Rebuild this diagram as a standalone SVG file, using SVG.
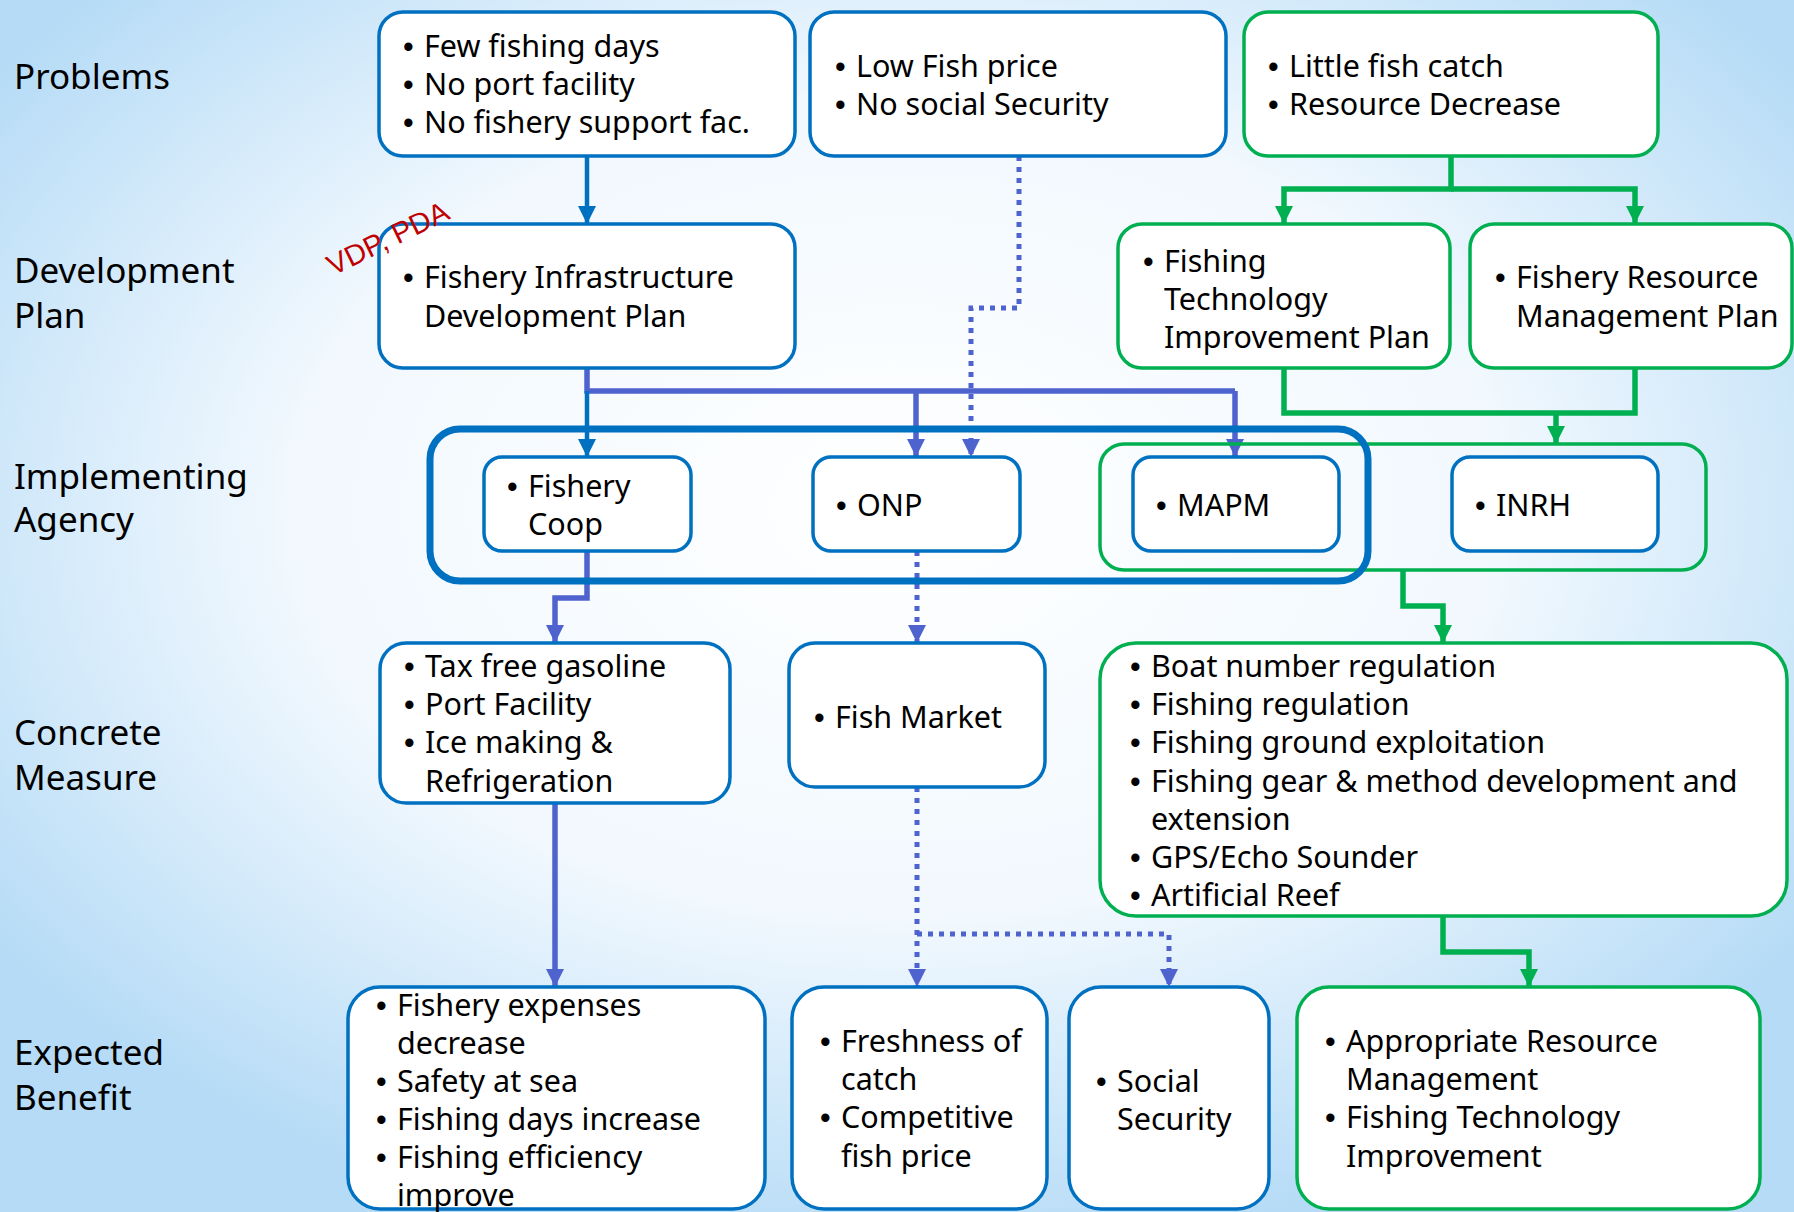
<svg xmlns="http://www.w3.org/2000/svg" width="1794" height="1212" viewBox="0 0 1794 1212">
<defs>
<radialGradient id="bg" cx="0.5" cy="0.42" r="0.62">
<stop offset="0" stop-color="#FFFFFF"/>
<stop offset="0.55" stop-color="#F1F8FE"/>
<stop offset="1" stop-color="#B5DBF6"/>
</radialGradient>
<marker id="aBlue" markerUnits="userSpaceOnUse" markerWidth="18" markerHeight="18" viewBox="0 0 18 18" refX="18" refY="9" orient="auto"><path d="M0,0 L18,9 L0,18 z" fill="#0070C0"/></marker>
<marker id="aPur" markerUnits="userSpaceOnUse" markerWidth="18" markerHeight="18" viewBox="0 0 18 18" refX="18" refY="9" orient="auto"><path d="M0,0 L18,9 L0,18 z" fill="#4F63CF"/></marker>
<marker id="aGrn" markerUnits="userSpaceOnUse" markerWidth="18" markerHeight="18" viewBox="0 0 18 18" refX="18" refY="9" orient="auto"><path d="M0,0 L18,9 L0,18 z" fill="#00B050"/></marker>
</defs>
<style>
text{font-family:"Noto Sans","Liberation Sans",sans-serif;fill:#000}
.lbl{font-size:35px}
.t{font-size:30.5px}
.b{font-family:"Liberation Sans",Arial,sans-serif;font-size:30.5px}
.bb{fill:#fff;stroke:#0070C0;stroke-width:3.5}
.gb{fill:#fff;stroke:#00B050;stroke-width:3.5}
.cb{fill:none;stroke:#0070C0;stroke-width:7}
.cg{fill:none;stroke:#00B050;stroke-width:3.5}
.lb{fill:none;stroke:#0070C0;stroke-width:4.5}
.lp{fill:none;stroke:#4F63CF;stroke-width:5.5}
.ld{fill:none;stroke:#4F63CF;stroke-width:5;stroke-dasharray:5 6}
.lg{fill:none;stroke:#00B050;stroke-width:5.5}
.red{font-family:"Liberation Sans",Arial,sans-serif;font-size:29px;fill:#C00000}
</style>
<rect x="0" y="0" width="1794" height="1212" fill="url(#bg)"/>

<g id="labels">
<text class="lbl" x="14" y="89">Problems</text>
<text class="lbl" x="14" y="283">Development</text>
<text class="lbl" x="14" y="328">Plan</text>
<text class="lbl" x="14" y="489">Implementing</text>
<text class="lbl" x="14" y="532">Agency</text>
<text class="lbl" x="14" y="745">Concrete</text>
<text class="lbl" x="14" y="790">Measure</text>
<text class="lbl" x="14" y="1065">Expected</text>
<text class="lbl" x="14" y="1110">Benefit</text>
</g>

<g id="connectors">
<path class="lb" d="M587,156 V224" marker-end="url(#aBlue)"/>
<path class="ld" d="M1019,156 V308 H971 V457" marker-end="url(#aPur)"/>
<path class="lp" d="M587,368 V391 H1235"/>
<path class="lb" d="M587,391 V457" marker-end="url(#aBlue)"/>
<path class="lp" d="M916,391 V457" marker-end="url(#aPur)"/>
<path class="lp" d="M1235,391 V457" marker-end="url(#aPur)"/>
<path class="lg" d="M1451,156 V189 H1284 V224" marker-end="url(#aGrn)"/>
<path class="lg" d="M1451,189 H1635 V224" marker-end="url(#aGrn)"/>
<path class="lg" d="M1284,368 V413 H1635 V368"/>
<path class="lg" d="M1556,413 V444" marker-end="url(#aGrn)"/>
<path class="lp" d="M587,551 V598 H555 V643" marker-end="url(#aPur)"/>
<path class="ld" d="M917,551 V643" marker-end="url(#aPur)"/>
<path class="lg" d="M1403,570 V606 H1443 V643" marker-end="url(#aGrn)"/>
<path class="lp" d="M555,803 V987" marker-end="url(#aPur)"/>
<path class="ld" d="M917,787 V987" marker-end="url(#aPur)"/>
<path class="ld" d="M917,934 H1169 V987" marker-end="url(#aPur)"/>
<path class="lg" d="M1443,916 V952 H1529 V987" marker-end="url(#aGrn)"/>
</g>

<g id="container-green"><rect class="cg" x="1100" y="444" width="606" height="126" rx="24"/></g>
<g id="container-blue"><rect class="cb" x="430" y="429" width="938" height="152" rx="30"/></g>

<g id="p1"><rect class="bb" x="379" y="12" width="416" height="144" rx="24"/>
<text class="b" x="403" y="57">•</text><text class="t" x="424" y="57">Few fishing days</text>
<text class="b" x="403" y="95">•</text><text class="t" x="424" y="95">No port facility</text>
<text class="b" x="403" y="133">•</text><text class="t" x="424" y="133">No fishery support fac.</text></g>

<g id="p2"><rect class="bb" x="810" y="12" width="416" height="144" rx="24"/>
<text class="b" x="835" y="77">•</text><text class="t" x="856" y="77">Low Fish price</text>
<text class="b" x="835" y="115">•</text><text class="t" x="856" y="115">No social Security</text></g>

<g id="p3"><rect class="gb" x="1244" y="12" width="414" height="144" rx="24"/>
<text class="b" x="1268" y="77">•</text><text class="t" x="1289" y="77">Little fish catch</text>
<text class="b" x="1268" y="115">•</text><text class="t" x="1289" y="115">Resource Decrease</text></g>

<g id="d1"><rect class="bb" x="379" y="224" width="416" height="144" rx="24"/>
<text class="b" x="403" y="288">•</text><text class="t" x="424" y="288">Fishery Infrastructure</text>
<text class="t" x="424" y="327">Development Plan</text></g>

<text class="red" x="333" y="276" transform="rotate(-26 333 276)">VDP, PDA</text>

<g id="d2"><rect class="gb" x="1118" y="224" width="332" height="144" rx="24"/>
<text class="b" x="1143" y="272">•</text><text class="t" x="1164" y="272">Fishing</text>
<text class="t" x="1164" y="310">Technology</text>
<text class="t" x="1164" y="348">Improvement Plan</text></g>

<g id="d3"><rect class="gb" x="1470" y="224" width="322" height="144" rx="24"/>
<text class="b" x="1495" y="288">•</text><text class="t" x="1516" y="288">Fishery Resource</text>
<text class="t" x="1516" y="327">Management Plan</text></g>

<g id="coop"><rect class="bb" x="484" y="457" width="207" height="94" rx="18"/>
<text class="b" x="507" y="497">•</text><text class="t" x="528" y="497">Fishery</text>
<text class="t" x="528" y="535">Coop</text></g>

<g id="onp"><rect class="bb" x="813" y="457" width="207" height="94" rx="18"/>
<text class="b" x="836" y="516">•</text><text class="t" x="857" y="516">ONP</text></g>

<g id="mapm"><rect class="bb" x="1133" y="457" width="206" height="94" rx="18"/>
<text class="b" x="1156" y="516">•</text><text class="t" x="1177" y="516">MAPM</text></g>

<g id="inrh"><rect class="bb" x="1452" y="457" width="206" height="94" rx="18"/>
<text class="b" x="1475" y="516">•</text><text class="t" x="1496" y="516">INRH</text></g>

<g id="c1"><rect class="bb" x="380" y="643" width="350" height="160" rx="26"/>
<text class="b" x="404" y="677">•</text><text class="t" x="425" y="677">Tax free gasoline</text>
<text class="b" x="404" y="715">•</text><text class="t" x="425" y="715">Port Facility</text>
<text class="b" x="404" y="753">•</text><text class="t" x="425" y="753">Ice making &amp;</text>
<text class="t" x="425" y="792">Refrigeration</text></g>

<g id="c2"><rect class="bb" x="789" y="643" width="256" height="144" rx="26"/>
<text class="b" x="814" y="728">•</text><text class="t" x="835" y="728">Fish Market</text></g>

<g id="c3"><rect class="gb" x="1100" y="643" width="687" height="273" rx="36"/>
<text class="b" x="1130" y="677">•</text><text class="t" x="1151" y="677">Boat number regulation</text>
<text class="b" x="1130" y="715">•</text><text class="t" x="1151" y="715">Fishing regulation</text>
<text class="b" x="1130" y="753">•</text><text class="t" x="1151" y="753">Fishing ground exploitation</text>
<text class="b" x="1130" y="792">•</text><text class="t" x="1151" y="792">Fishing gear &amp; method development and</text>
<text class="t" x="1151" y="830">extension</text>
<text class="b" x="1130" y="868">•</text><text class="t" x="1151" y="868">GPS/Echo Sounder</text>
<text class="b" x="1130" y="906">•</text><text class="t" x="1151" y="906">Artificial Reef</text></g>

<g id="e1"><rect class="bb" x="348" y="987" width="417" height="222" rx="32"/>
<text class="b" x="376" y="1016">•</text><text class="t" x="397" y="1016">Fishery expenses</text>
<text class="t" x="397" y="1054">decrease</text>
<text class="b" x="376" y="1092">•</text><text class="t" x="397" y="1092">Safety at sea</text>
<text class="b" x="376" y="1130">•</text><text class="t" x="397" y="1130">Fishing days increase</text>
<text class="b" x="376" y="1168">•</text><text class="t" x="397" y="1168">Fishing efficiency</text>
<text class="t" x="397" y="1206">improve</text></g>

<g id="e2"><rect class="bb" x="792" y="987" width="255" height="222" rx="32"/>
<text class="b" x="820" y="1052">•</text><text class="t" x="841" y="1052">Freshness of</text>
<text class="t" x="841" y="1090">catch</text>
<text class="b" x="820" y="1128">•</text><text class="t" x="841" y="1128">Competitive</text>
<text class="t" x="841" y="1167">fish price</text></g>

<g id="e3"><rect class="bb" x="1069" y="987" width="200" height="222" rx="32"/>
<text class="b" x="1096" y="1092">•</text><text class="t" x="1117" y="1092">Social</text>
<text class="t" x="1117" y="1130">Security</text></g>

<g id="e4"><rect class="gb" x="1297" y="987" width="463" height="222" rx="32"/>
<text class="b" x="1325" y="1052">•</text><text class="t" x="1346" y="1052">Appropriate Resource</text>
<text class="t" x="1346" y="1090">Management</text>
<text class="b" x="1325" y="1128">•</text><text class="t" x="1346" y="1128">Fishing Technology</text>
<text class="t" x="1346" y="1167">Improvement</text></g>
</svg>
